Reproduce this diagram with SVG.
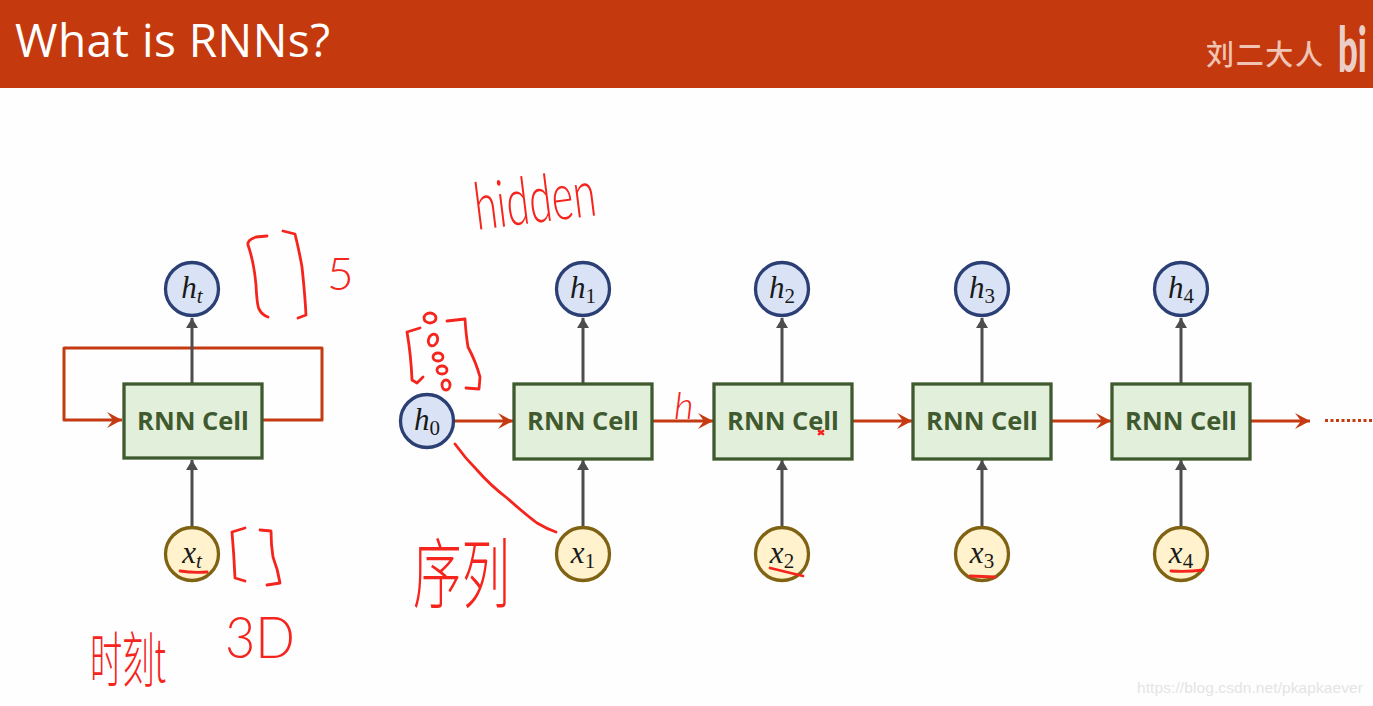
<svg xmlns="http://www.w3.org/2000/svg" width="1373" height="706" viewBox="0 0 1373 706">
<style>
.cell{fill:#E2EFDA;stroke:#3F5A2E;stroke-width:3.300}
.celltxt{font-family:"Open Sans","Noto Sans",sans-serif;font-weight:700;font-size:25.500px;fill:#3F5A2E;text-anchor:middle}
.hc{fill:#D9E3F5;stroke:#2B3F74;stroke-width:3.300}
.xc{fill:#FFF2CC;stroke:#7F6313;stroke-width:3.300}
.math{font-family:"Liberation Serif",serif;font-style:italic;font-size:31px;fill:#1a1a1a;text-anchor:middle}
.sub{font-size:21px}
.upright{font-style:normal}
.red{fill:none;stroke:#C43A12;stroke-width:3;stroke-linejoin:round}
.gray{fill:none;stroke:#4D4D4F;stroke-width:3}
.ink{fill:none;stroke:#F5241C;stroke-width:2.800;stroke-linecap:round;stroke-linejoin:round}
.hand{font-family:"Lato","Noto Sans CJK SC",sans-serif;font-weight:300;fill:#F5241C}
.handc{font-family:"Noto Sans CJK SC",sans-serif;font-weight:300;fill:#F5241C}
</style>
<defs>
<marker id="ra" markerUnits="userSpaceOnUse" markerWidth="20" markerHeight="20" refX="16" refY="9" orient="auto"><path d="M1 1 L16 9 L1 17 L7 9 Z" fill="#C43A12"/></marker>
<marker id="ga" markerUnits="userSpaceOnUse" markerWidth="14" markerHeight="14" refX="10" refY="6" orient="auto"><path d="M0 0 L10 6 L0 12 Z" fill="#4D4D4F"/></marker>
</defs>
<rect width="1373" height="706" fill="#FEFEFE"/>
<g id="header">
<rect width="1373" height="88" fill="#C43A0E"/>
<text x="15" y="57" font-family="'Open Sans','Noto Sans',sans-serif" font-size="46" fill="#fff" textLength="315">What is RNNs?</text>
<text x="1206" y="65" font-family="'Noto Sans CJK SC',sans-serif" font-weight="500" font-size="28" fill="#F0C4B4" textLength="117">刘二大人</text>
<text transform="translate(1338 72) scale(.56 1)" font-family="Lato,sans-serif" font-weight="900" font-size="62" fill="#EBCFC6">bi</text>
</g>
<g id="connectors">
<path class="red" d="M262 420 H322 V348 H64 V420 H122" marker-end="url(#ra)"/>
<path class="gray" d="M192 384 V318" marker-end="url(#ga)"/>
<path class="gray" d="M192 527 V460" marker-end="url(#ga)"/>
<path class="red" d="M454 421 H513" marker-end="url(#ra)"/>
<path class="red" d="M652 421 H713" marker-end="url(#ra)"/>
<path class="red" d="M852 421 H912" marker-end="url(#ra)"/>
<path class="red" d="M1051 421 H1111" marker-end="url(#ra)"/>
<path class="red" d="M1250 421 H1310" marker-end="url(#ra)"/>
<path d="M1325 420.500 H1373" fill="none" stroke="#C43A12" stroke-width="3" stroke-dasharray="3 2.500"/>
<path class="gray" d="M583 384 V318" marker-end="url(#ga)"/>
<path class="gray" d="M583 527 V460" marker-end="url(#ga)"/>
<path class="gray" d="M782 384 V318" marker-end="url(#ga)"/>
<path class="gray" d="M782 527 V460" marker-end="url(#ga)"/>
<path class="gray" d="M982 384 V318" marker-end="url(#ga)"/>
<path class="gray" d="M982 527 V460" marker-end="url(#ga)"/>
<path class="gray" d="M1181 384 V318" marker-end="url(#ga)"/>
<path class="gray" d="M1181 527 V460" marker-end="url(#ga)"/>
</g>
<g id="cell-t"><rect class="cell" x="124" y="384" width="138" height="74"/><text class="celltxt" x="193" y="430">RNN Cell</text></g>
<g id="cell-1"><rect class="cell" x="514" y="384" width="138" height="75"/><text class="celltxt" x="583" y="430">RNN Cell</text></g>
<g id="cell-2"><rect class="cell" x="714" y="384" width="138" height="75"/><text class="celltxt" x="783" y="430">RNN Cell</text></g>
<g id="cell-3"><rect class="cell" x="913" y="384" width="138" height="75"/><text class="celltxt" x="982" y="430">RNN Cell</text></g>
<g id="cell-4"><rect class="cell" x="1112" y="384" width="138" height="75"/><text class="celltxt" x="1181" y="430">RNN Cell</text></g>
<g id="node-ht"><circle class="hc" cx="192" cy="289" r="26.500"/><text class="math" x="192" y="298">h<tspan class="sub" dy="5">t</tspan></text></g>
<g id="node-xt"><circle class="xc" cx="192" cy="554" r="26.500"/><text class="math" x="192" y="563">x<tspan class="sub" dy="5">t</tspan></text></g>
<g id="node-h0"><circle class="hc" cx="427" cy="421" r="26.500"/><text class="math" x="427" y="430">h<tspan class="sub upright" dy="5">0</tspan></text></g>
<g id="node-h1"><circle class="hc" cx="583" cy="289" r="26.500"/><text class="math" x="583" y="298">h<tspan class="sub upright" dy="5">1</tspan></text></g>
<g id="node-h2"><circle class="hc" cx="782" cy="289" r="26.500"/><text class="math" x="782" y="298">h<tspan class="sub upright" dy="5">2</tspan></text></g>
<g id="node-h3"><circle class="hc" cx="982" cy="289" r="26.500"/><text class="math" x="982" y="298">h<tspan class="sub upright" dy="5">3</tspan></text></g>
<g id="node-h4"><circle class="hc" cx="1181" cy="289" r="26.500"/><text class="math" x="1181" y="298">h<tspan class="sub upright" dy="5">4</tspan></text></g>
<g id="node-x1"><circle class="xc" cx="583" cy="554" r="26.500"/><text class="math" x="583" y="563">x<tspan class="sub upright" dy="5">1</tspan></text></g>
<g id="node-x2"><circle class="xc" cx="782" cy="554" r="26.500"/><text class="math" x="782" y="563">x<tspan class="sub upright" dy="5">2</tspan></text></g>
<g id="node-x3"><circle class="xc" cx="982" cy="554" r="26.500"/><text class="math" x="982" y="563">x<tspan class="sub upright" dy="5">3</tspan></text></g>
<g id="node-x4"><circle class="xc" cx="1181" cy="554" r="26.500"/><text class="math" x="1181" y="563">x<tspan class="sub upright" dy="5">4</tspan></text></g>
<g id="annotations">
<path class="ink" d="M267 236 L256 237 Q247 240 248 245 Q254 262 256 285 Q257 305 259 309 Q262 315 268 317"/>
<path class="ink" d="M283 231 L295 234 Q299 250 302 267 Q305 295 306 315 L298 318"/>
<path class="ink" d="M245 528 L232 532 Q234 555 235 578 L245 581"/>
<path class="ink" d="M260 530 L271 531 Q271 545 273 557 Q278 570 280 583 L267 585"/>
<path class="ink" d="M420 328 L407 332 Q411 355 412 380 L417 383 L423 377"/>
<path class="ink" d="M447 321 L465 319 Q466 335 468 347 Q476 362 480 377 L479 389 L466 388"/>
<ellipse class="ink" cx="430" cy="318" rx="6" ry="5"/>
<ellipse class="ink" cx="433" cy="340" rx="4.500" ry="6" transform="rotate(20 433 340)"/>
<ellipse class="ink" cx="438" cy="357" rx="5" ry="4"/>
<ellipse class="ink" cx="442" cy="370" rx="5" ry="4"/>
<ellipse class="ink" cx="446" cy="385" rx="4" ry="5"/>
<path class="ink" d="M455 444 Q465 458 477 470 Q490 485 507 498 Q525 514 537 523 Q547 529 556 532"/>
<path class="ink" d="M180 571 Q193 573 207 572"/>
<path class="ink" stroke-width="3" d="M770 568 L803 576"/>
<path class="ink" d="M970 576 L995 577"/>
<path class="ink" d="M1171 571 Q1188 572 1203 570"/>
<path class="ink" stroke-width="1" d="M819 431 L823 434 M823 431 L819 434"/>
<text class="hand" transform="translate(477 230) rotate(-7)" font-size="66" textLength="122" lengthAdjust="spacingAndGlyphs">hidden</text>
<text class="hand" x="327" y="290" font-size="46">5</text>
<text class="hand" x="674" y="419" font-size="38" font-style="italic">h</text>
<text class="hand" x="225" y="658" font-size="58" textLength="70" lengthAdjust="spacingAndGlyphs">3D</text>
<text class="handc" x="413" y="602" font-size="76" textLength="97" lengthAdjust="spacingAndGlyphs">序列</text>
<text class="handc" x="90" y="682" font-size="60" textLength="76" lengthAdjust="spacingAndGlyphs">时刻t</text>
</g>
<text id="watermark" x="1137" y="693" font-family="'Liberation Sans',sans-serif" font-size="15.500" fill="#E4E4E4" textLength="226">https://blog.csdn.net/pkapkaever</text>
</svg>
